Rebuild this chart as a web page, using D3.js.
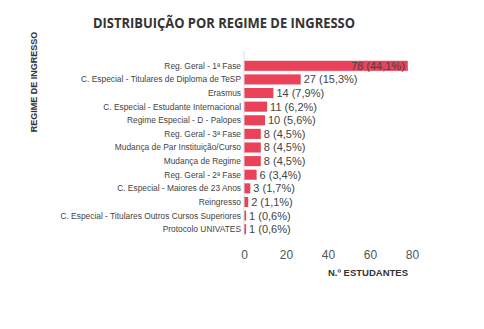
<!DOCTYPE html>
<html><head><meta charset="utf-8">
<script src="https://cdn.jsdelivr.net/npm/d3@7"></script>
<style>body{margin:0;background:#fff}</style>
</head><body>
<svg id="c" width="484" height="329"></svg>
<script>
const categories = ["Reg. Geral - 1ª Fase","C. Especial - Titulares de Diploma de TeSP","Erasmus","C. Especial - Estudante Internacional","Regime Especial - D - Palopes","Reg. Geral - 3ª Fase","Mudança de Par Instituição/Curso","Mudança de Regime","Reg. Geral - 2ª Fase","C. Especial - Maiores de 23 Anos","Reingresso","C. Especial - Titulares Outros Cursos Superiores","Protocolo UNIVATES"];
const values = [78,27,14,11,10,8,8,8,6,3,2,1,1];
const percents = ["44,1%","15,3%","7,9%","6,2%","5,6%","4,5%","4,5%","4,5%","3,4%","1,7%","1,1%","0,6%","0,6%"];
const xTicks = [0,20,40,60,80];

const svg = d3.select("#c");
const x = d3.scaleLinear().domain([0,80]).range([244,412]);
const y = d3.scaleBand().domain(categories).range([59,236]).paddingInner(0.26).paddingOuter(0.13);

svg.append("text").attr("x",224).attr("y",28).attr("text-anchor","middle")
  .attr("font-family","Open Sans").attr("font-weight","bold").attr("font-size",14.5).attr("fill","#333")
  .attr("textLength",262).attr("lengthAdjust","spacingAndGlyphs")
  .text("DISTRIBUIÇÃO POR REGIME DE INGRESSO");

svg.append("text").attr("transform","translate(37,82) rotate(-90)").attr("text-anchor","middle")
  .attr("font-family","Liberation Sans").attr("font-weight","bold").attr("font-size",9).attr("fill","#333")
  .text("REGIME DE INGRESSO");

// bars
svg.selectAll("rect.bar").data(values).enter().append("rect")
  .attr("x",x(0)).attr("y",(d,i)=>y(categories[i])).attr("width",d=>x(d)-x(0)).attr("height",y.bandwidth())
  .attr("fill","#ea4259");

// axis line
svg.append("line").attr("x1",x(0)).attr("x2",x(0)).attr("y1",51).attr("y2",236).attr("stroke","#ddd").attr("stroke-width",1);

// category labels
svg.selectAll("text.cat").data(categories).enter().append("text")
  .attr("x",241).attr("y",d=>y(d)+y.bandwidth()/2).attr("dy","0.35em").attr("text-anchor","end")
  .attr("font-family","Liberation Sans").attr("font-size",8.4).attr("fill","#444").text(d=>d);

// value labels
svg.selectAll("text.val").data(values).enter().append("text")
  .attr("x",(d,i)=> i===0 ? x(d)-3 : x(d)+3)
  .attr("y",(d,i)=>y(categories[i])+y.bandwidth()/2).attr("dy","0.36em")
  .attr("text-anchor",(d,i)=> i===0 ? "end":"start")
  .attr("font-family","Liberation Sans").attr("font-size",11).attr("fill","#444")
  .text((d,i)=>`${d} (${percents[i]})`);

// x axis ticks
const ax = svg.append("g").attr("transform","translate(0,246)")
  .call(d3.axisBottom(x).tickValues(xTicks).tickSize(0).tickPadding(4));
ax.select(".domain").remove();
ax.selectAll("text").attr("font-family","Liberation Sans").attr("font-size",12).attr("fill","#555");

svg.append("text").attr("x",368).attr("y",276).attr("text-anchor","middle")
  .attr("font-family","Liberation Sans").attr("font-weight","bold").attr("font-size",9.5).attr("fill","#333")
  .text("N.º ESTUDANTES");
</script>
</body></html>
